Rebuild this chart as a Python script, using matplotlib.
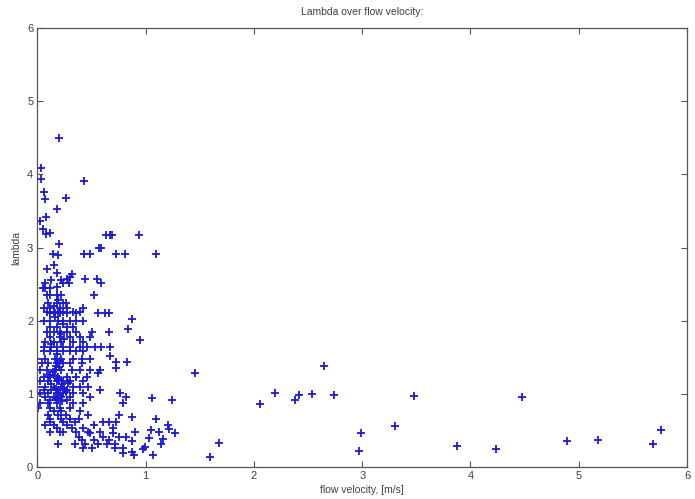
import matplotlib
matplotlib.use("Agg")
import matplotlib.pyplot as plt

# flow velocity [m/s] and lambda, grouped by region of the scatter
vel_upper = [0.20, 0.03, 0.03, 0.43, 0.06, 0.07, 0.26, 0.18, 0.08, 0.02,
             0.05, 0.08, 0.12, 0.20, 0.14, 0.19, 0.43, 0.49, 0.57, 0.59,
             0.63, 0.67, 0.69, 0.73, 0.81, 0.94, 1.10, 0.15, 0.09, 0.18,
             0.13, 0.22, 0.27, 0.30, 0.32, 0.44, 0.55, 0.59, 0.05, 0.18,
             0.07, 0.24, 0.29]
lam_upper = [4.49, 4.09, 3.94, 3.91, 3.76, 3.66, 3.67, 3.52, 3.42, 3.36,
             3.25, 3.18, 3.20, 3.05, 2.91, 2.90, 2.91, 2.91, 3.00, 2.99,
             3.17, 3.17, 3.17, 2.91, 2.91, 3.17, 2.91, 2.76, 2.71, 2.65,
             2.56, 2.55, 2.57, 2.60, 2.64, 2.57, 2.57, 2.51, 2.45, 2.46,
             2.51, 2.51, 2.52]

vel_core = [
    0.07, 0.12,
    0.09, 0.12, 0.18, 0.22, 0.52,
    0.10, 0.18, 0.24, 0.26,
    0.06, 0.12, 0.21, 0.27, 0.42,
    0.09, 0.15, 0.19, 0.24, 0.33, 0.39,
    0.12, 0.16, 0.21, 0.27, 0.36, 0.56, 0.62, 0.66,
    0.87,
    0.06, 0.12, 0.19, 0.24, 0.30, 0.36, 0.42,
    0.12, 0.18, 0.27, 0.33,
    0.84,
    0.09, 0.15, 0.21, 0.27, 0.36, 0.50, 0.66,
    0.12, 0.21, 0.30, 0.39, 0.49,
    0.95,
    0.07, 0.15, 0.22, 0.33, 0.42,
    0.06, 0.13, 0.18, 0.24, 0.30, 0.39, 0.46, 0.53, 0.59, 0.67,
    0.06, 0.12, 0.18, 0.24, 0.30, 0.36, 0.42,
    0.67,
    0.00, 0.07, 0.16, 0.22, 0.33, 0.41, 0.49,
    0.73, 0.83,
    0.04, 0.10, 0.18, 0.24, 0.30, 0.41,
    0.73,
    0.02, 0.09, 0.16, 0.22, 0.32, 0.39, 0.49, 0.58,
    0.56,
    0.06, 0.12, 0.19, 0.27, 0.36, 0.46,
    0.02, 0.10, 0.18, 0.24, 0.30, 0.42,
    0.00, 0.07, 0.15, 0.22, 0.33, 0.39, 0.47,
    0.06, 0.13, 0.19, 0.27, 0.58,
    0.02, 0.10, 0.18, 0.24, 0.33, 0.42, 0.76,
    0.07, 0.15, 0.22, 0.30, 0.49, 0.82,
    0.12, 0.19, 0.27,
    0.02, 0.10, 0.18, 0.33, 0.42, 0.79,
    0.01, 0.12, 0.21, 0.30,
    0.15, 0.22, 0.39,
    0.10, 0.19, 0.26, 0.47, 0.75,
    0.12, 0.22, 0.30, 0.38,
    0.12, 0.24, 0.35, 0.61, 0.66, 0.73,
    0.07, 0.15, 0.27, 0.52,
    0.18, 0.32, 0.42, 0.70,
    0.12, 0.21, 0.24, 0.36, 0.47, 0.58,
    0.49, 0.70,
    0.38, 0.61, 0.75, 0.82,
    0.41, 0.52, 0.66,
    0.19, 0.35, 0.44, 0.56, 0.64, 0.72,
    0.42, 0.50, 0.72, 0.79,
    0.79,
    # densest part of the cloud
    0.13, 0.17, 0.20, 0.23, 0.26, 0.15, 0.19, 0.21, 0.25, 0.28,
    0.14, 0.17, 0.23, 0.11, 0.20, 0.16, 0.24, 0.18, 0.13, 0.22,
    0.15, 0.19, 0.21, 0.17, 0.25,
]
lam_core = [
    2.44, 2.44,
    2.35, 2.35, 2.35, 2.35, 2.35,
    2.24, 2.24, 2.24, 2.24,
    2.17, 2.17, 2.17, 2.17, 2.17,
    2.12, 2.12, 2.12, 2.12, 2.12, 2.12,
    2.10, 2.10, 2.10, 2.10, 2.10, 2.10, 2.10, 2.10,
    2.02,
    1.99, 1.99, 1.99, 1.99, 1.99, 1.99, 1.99,
    1.92, 1.92, 1.92, 1.92,
    1.88,
    1.85, 1.85, 1.85, 1.85, 1.85, 1.85, 1.85,
    1.78, 1.78, 1.78, 1.78, 1.78,
    1.73,
    1.71, 1.71, 1.71, 1.71, 1.71,
    1.64, 1.64, 1.64, 1.64, 1.64, 1.64, 1.64, 1.64, 1.64, 1.64,
    1.58, 1.58, 1.58, 1.58, 1.58, 1.58, 1.58,
    1.52,
    1.48, 1.48, 1.48, 1.48, 1.48, 1.48, 1.48,
    1.44, 1.44,
    1.42, 1.42, 1.42, 1.42, 1.42, 1.42,
    1.36,
    1.33, 1.33, 1.33, 1.33, 1.33, 1.33, 1.33, 1.33,
    1.28,
    1.23, 1.23, 1.23, 1.23, 1.23, 1.23,
    1.17, 1.17, 1.17, 1.17, 1.17, 1.17,
    1.10, 1.10, 1.10, 1.10, 1.10, 1.10, 1.10,
    1.05, 1.05, 1.05, 1.05, 1.05,
    1.01, 1.01, 1.01, 1.01, 1.01, 1.01, 1.01,
    0.96, 0.96, 0.96, 0.96, 0.96, 0.96,
    0.92, 0.92, 0.92,
    0.87, 0.87, 0.87, 0.87, 0.87, 0.87,
    0.80, 0.80, 0.80, 0.80,
    0.76, 0.76, 0.76,
    0.71, 0.71, 0.71, 0.71, 0.71,
    0.66, 0.66, 0.66, 0.66,
    0.62, 0.62, 0.62, 0.62, 0.62, 0.62,
    0.57, 0.57, 0.57, 0.57,
    0.53, 0.53, 0.53, 0.53,
    0.48, 0.48, 0.48, 0.48, 0.48, 0.48,
    0.46, 0.46,
    0.41, 0.41, 0.41, 0.41,
    0.37, 0.37, 0.37,
    0.31, 0.31, 0.31, 0.31, 0.31, 0.31,
    0.26, 0.26, 0.26, 0.26,
    0.19,
    1.14, 1.07, 1.20, 1.13, 1.02, 1.26, 1.19, 0.98, 1.08, 1.15,
    1.30, 0.94, 0.90, 1.26, 1.37, 2.05, 1.95, 1.55, 1.68, 1.82,
    2.20, 2.28, 1.45, 1.38, 1.75,
]

vel_mid = [1.06, 1.24, 0.87, 1.10, 1.21, 1.22, 1.27, 0.90, 1.05, 1.12,
           1.16, 1.03, 0.87, 1.14, 0.99, 0.98, 1.07, 0.87, 0.89]
lam_mid = [0.94, 0.92, 0.69, 0.66, 0.58, 0.52, 0.47, 0.48, 0.50, 0.48,
           0.38, 0.39, 0.35, 0.31, 0.27, 0.25, 0.16, 0.21, 0.16]

vel_high = [1.46, 1.59, 1.68, 2.06, 2.19, 2.38, 2.42, 2.54, 2.65, 2.74,
            2.97, 2.99, 3.30, 3.48, 3.88, 4.24, 4.48, 4.89, 5.18, 5.69,
            5.76]
lam_high = [1.28, 0.14, 0.33, 0.86, 1.01, 0.91, 0.98, 1.00, 1.38, 0.99,
            0.22, 0.46, 0.56, 0.97, 0.29, 0.24, 0.96, 0.35, 0.37, 0.31,
            0.51]

x_ticks = [0, 1, 2, 3, 4, 5, 6]
y_ticks = [0, 1, 2, 3, 4, 5, 6]

velocity = vel_upper + vel_core + vel_mid + vel_high
lam = lam_upper + lam_core + lam_mid + lam_high

plt.rcParams["font.family"] = ["Liberation Sans", "DejaVu Sans"]

fig = plt.figure(figsize=(6.95, 4.99), dpi=100)
ax = fig.add_axes([0.0538, 0.0641, 0.9347, 0.8798])

ax.plot(velocity, lam, linestyle="none", marker="+", markersize=5.5,
        markeredgewidth=1.3, color="#1a1ad4")

ax.set_xlim(0, 6)
ax.set_ylim(0, 6)
ax.set_xticks(x_ticks)
ax.set_yticks(y_ticks)

text_color = "#404040"
ax.tick_params(direction="in", top=True, right=True, length=4, width=0.8,
               colors="#555555", labelcolor=text_color, labelsize=8, pad=3)
for s in ax.spines.values():
    s.set_color("#555555")
    s.set_linewidth(0.9)

ax.set_title("Lambda over flow velocity:", fontsize=7.5, color=text_color, pad=9)
ax.set_xlabel("flow velocity, [m/s]", fontsize=7.5, color=text_color, labelpad=3)
ax.set_ylabel("lambda", fontsize=7.5, color=text_color, labelpad=4)

fig.savefig("out.png", dpi=100)
